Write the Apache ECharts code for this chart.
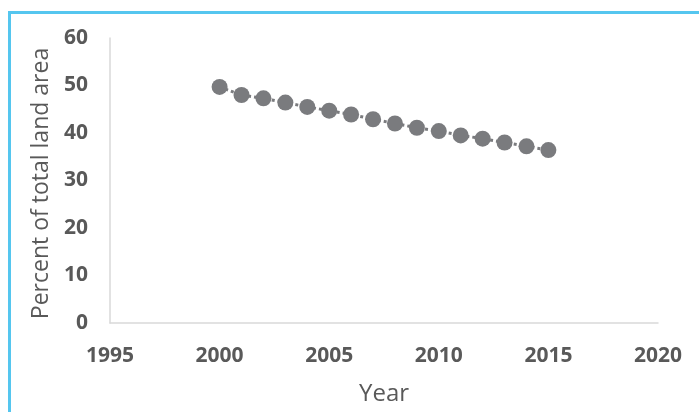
<!DOCTYPE html>
<html><head><meta charset="utf-8">
<script src="https://cdn.jsdelivr.net/npm/echarts@6/dist/echarts.min.js"></script>
<style>
html,body{margin:0;padding:0;background:#fff;}
#frame{position:absolute;left:8px;top:11px;width:720px;height:440px;border:3px solid #55c6ef;box-sizing:border-box;}
#c{position:absolute;left:0;top:0;width:699px;height:412px;}
</style></head>
<body>
<div id="frame"></div>
<div id="c"></div>
<script>
const years = [2000,2001,2002,2003,2004,2005,2006,2007,2008,2009,2010,2011,2012,2013,2014,2015];
const percent = [49.7,48.0,47.3,46.4,45.5,44.7,43.9,42.9,42.0,41.1,40.4,39.5,38.8,38.0,37.2,36.4];
const xTitle = 'Year';
const yTitle = 'Percent of total land area';

const chart = echarts.init(document.getElementById('c'));
const labelFont = {color:'#595959', fontWeight:'bold', fontSize:21, fontFamily:'"Open Sans",sans-serif'};
chart.setOption({
  animation:false,
  grid:{left:110, top:38, right:41, bottom:89},
  xAxis:{type:'value', min:1995, max:2020, interval:5,
    name:xTitle, nameLocation:'middle', nameGap:59,
    nameTextStyle:{color:'#595959', fontSize:24, fontFamily:'"Open Sans",sans-serif'},
    axisLine:{show:true, lineStyle:{color:'#d9d9d9', width:1.5}},
    axisTick:{show:false}, splitLine:{show:false},
    axisLabel:Object.assign({margin:23, formatter:v=>String(v)}, labelFont)},
  yAxis:{type:'value', min:0, max:60, interval:10,
    name:yTitle, nameLocation:'middle', nameGap:56,
    nameTextStyle:{color:'#595959', fontSize:23, fontFamily:'"Open Sans",sans-serif', padding:[0,6,0,0]},
    axisLine:{show:true, lineStyle:{color:'#d9d9d9', width:1.5}},
    axisTick:{show:false}, splitLine:{show:false},
    axisLabel:Object.assign({margin:22, formatter:v=>String(v)}, labelFont)},
  series:[{type:'line', data:years.map((y,i)=>[y,percent[i]]),
    symbol:'circle', symbolSize:16,
    itemStyle:{color:'#7a7b7e'},
    lineStyle:{color:'#7a7b7e', width:3, type:'dotted'}}]
});
</script>
</body></html>
